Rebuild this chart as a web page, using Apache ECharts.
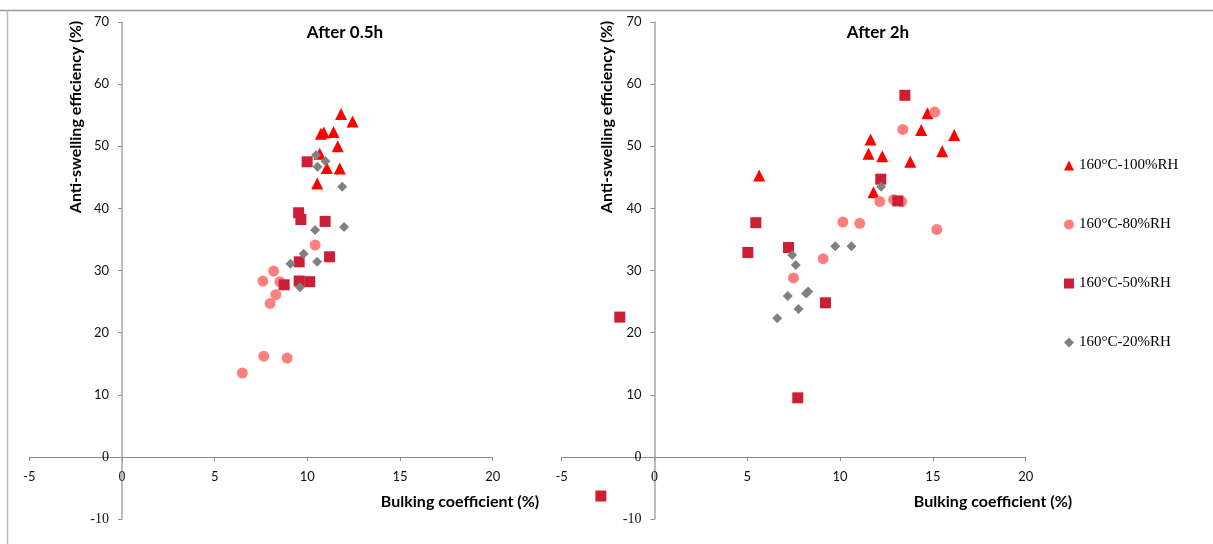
<!DOCTYPE html>
<html>
<head>
<meta charset="utf-8">
<script src="https://cdn.jsdelivr.net/npm/echarts@6/dist/echarts.min.js"></script>
<style>html,body{margin:0;padding:0;background:#fff}#c{width:1213px;height:544px}</style>
</head>
<body>
<div id="c"></div>
<script>
// ---- data ----
const seriesNames = ['160°C-100%RH', '160°C-80%RH', '160°C-50%RH', '160°C-20%RH'];
const panelTitles = ['After 0.5h', 'After 2h'];
const xTitle = 'Bulking coefficient (%)';
const yTitle = 'Anti-swelling efficiency (%)';

// After 0.5h
const rh100_05 = [[11.82,55.2],[12.44,54.0],[10.73,52.0],[10.89,52.2],[11.41,52.3],[11.64,50.0],[10.67,48.8],[11.05,46.5],[11.75,46.4],[10.53,44.0]];
const rh80_05  = [[10.42,34.1],[8.18,29.9],[7.60,28.3],[8.52,28.2],[8.30,26.1],[7.99,24.7],[7.65,16.2],[8.91,15.9],[6.49,13.5]];
const rh50_05  = [[9.99,47.5],[9.53,39.3],[9.65,38.2],[10.96,37.9],[11.20,32.2],[9.56,31.4],[8.75,27.7],[9.56,28.3],[10.13,28.2]];
const rh20_05  = [[10.47,48.6],[10.98,47.6],[10.55,46.7],[11.88,43.5],[10.42,36.5],[11.98,37.0],[9.80,32.7],[9.09,31.1],[10.53,31.4],[9.60,27.3]];

// After 2h
const rh100_2 = [[14.71,55.3],[14.37,52.6],[16.15,51.8],[11.64,51.1],[11.53,48.8],[12.27,48.4],[15.50,49.2],[13.78,47.5],[5.64,45.3],[11.80,42.6]];
const rh80_2  = [[15.10,55.5],[13.38,52.7],[12.14,41.1],[12.88,41.4],[13.32,41.1],[10.15,37.8],[11.06,37.6],[15.21,36.6],[9.09,31.9],[7.49,28.8]];
const rh50_2  = [[13.49,58.2],[12.19,44.7],[13.11,41.2],[5.46,37.7],[5.03,32.9],[7.22,33.7],[9.21,24.8],[7.72,9.5],[-1.87,22.5],[-2.89,-6.3]];
const rh20_2  = [[12.21,43.5],[9.74,33.9],[10.61,33.9],[7.42,32.5],[7.61,30.9],[7.18,25.9],[8.28,26.6],[8.17,26.3],[7.76,23.8],[6.61,22.3]];

const xTicks = {min: -5, max: 20, interval: 5};
const yTicks = {min: -10, max: 70, interval: 10};

// ---- styles ----
const colors = ['#FF0000', '#FF7F7F', '#CC1F35', '#808080'];
const symbols = ['triangle', 'circle', 'rect', 'diamond'];
const sizes = [12, 11, 11, 10];
const sans = 'Lato, "Open Sans", sans-serif';
const serif = '"Liberation Serif", "DejaVu Serif", serif';

const chart = echarts.init(document.getElementById('c'), null, {renderer: 'canvas'});

const grids = [
  {left: 29.3, top: 22, width: 463.4, height: 497},
  {left: 561.7, top: 22, width: 464, height: 497}
];

function labelFmt(v) {
  if (v === 0 || v === -10) return '{s|' + v + '}';
  return '{n|' + v + '}';
}
const rich = {
  s: {fontFamily: serif, fontSize: 14, color: '#111'},
  n: {fontFamily: sans, fontSize: 13, color: '#111'}
};

// place the axes through zero by offsetting them from the grid edges
function zeroOffsetX(g) { return -g.height * (0 - yTicks.min) / (yTicks.max - yTicks.min); }
function zeroOffsetY(g) { return -g.width * (0 - xTicks.min) / (xTicks.max - xTicks.min); }

const xAxes = grids.map((g, i) => ({
  gridIndex: i, type: 'value', min: xTicks.min, max: xTicks.max, interval: xTicks.interval,
  position: 'bottom', offset: zeroOffsetX(g),
  axisLine: {onZero: false, lineStyle: {color: '#8c8c8c', width: 1}},
  axisTick: {show: true, inside: false, length: 4, lineStyle: {color: '#8c8c8c'}},
  axisLabel: {margin: 13, formatter: labelFmt, rich: rich},
  splitLine: {show: false}
}));
const yAxes = grids.map((g, i) => ({
  gridIndex: i, type: 'value', min: yTicks.min, max: yTicks.max, interval: yTicks.interval,
  position: 'left', offset: zeroOffsetY(g),
  axisLine: {show: true, onZero: false, lineStyle: {color: '#a6a6a6', width: 1.5}},
  axisTick: {show: true, inside: false, length: 4, lineStyle: {color: '#8c8c8c'}},
  axisLabel: {margin: 13, formatter: labelFmt, rich: rich},
  splitLine: {show: false}
}));

const panelData = [[rh100_05, rh80_05, rh50_05, rh20_05], [rh100_2, rh80_2, rh50_2, rh20_2]];
const series = [];
panelData.forEach((sets, p) => {
  sets.forEach((d, k) => {
    series.push({
      name: seriesNames[k], type: 'scatter', xAxisIndex: p, yAxisIndex: p,
      symbol: symbols[k], symbolSize: sizes[k], data: d,
      itemStyle: {color: colors[k], opacity: 1},
      emphasis: {disabled: true}, z: 2 + k
    });
  });
});

const titleCenters = [[345, 33], [878, 33]];
const xTitleCenters = [[460, 502], [993, 502]];
const yTitleCenters = [[76, 117], [607, 117]];

const graphic = [
  {type: 'line', shape: {x1: 0, y1: 10.5, x2: 1213, y2: 10.5}, style: {stroke: '#999', lineWidth: 1.5}, silent: true},
  {type: 'line', shape: {x1: 7.5, y1: 10.5, x2: 7.5, y2: 544}, style: {stroke: '#bbb', lineWidth: 1.5}, silent: true}
];
panelTitles.forEach((t, i) => {
  graphic.push({type: 'text', x: titleCenters[i][0], y: titleCenters[i][1],
    style: {text: t, font: 'bold 17px ' + sans, fill: '#000', align: 'center', verticalAlign: 'middle'}});
  graphic.push({type: 'text', x: xTitleCenters[i][0], y: xTitleCenters[i][1],
    style: {text: xTitle, font: 'bold 16px ' + sans, fill: '#000', align: 'center', verticalAlign: 'middle'}});
  graphic.push({type: 'text', x: yTitleCenters[i][0], y: yTitleCenters[i][1], rotation: Math.PI / 2,
    style: {text: yTitle, font: 'bold 16px ' + sans, fill: '#000', align: 'center', verticalAlign: 'middle'}});
});

chart.setOption({
  animation: false,
  backgroundColor: '#fff',
  grid: grids,
  xAxis: xAxes,
  yAxis: yAxes,
  legend: {
    orient: 'vertical', left: 1059, top: 152,
    itemWidth: 10, itemHeight: 10, itemGap: 42,
    selectedMode: false,
    textStyle: {fontFamily: serif, fontSize: 15, color: '#000', lineHeight: 17},
    data: seriesNames.map((n, k) => ({name: n, icon: symbols[k], itemStyle: {color: colors[k]}}))
  },
  graphic: graphic,
  series: series
});
</script>
</body>
</html>
